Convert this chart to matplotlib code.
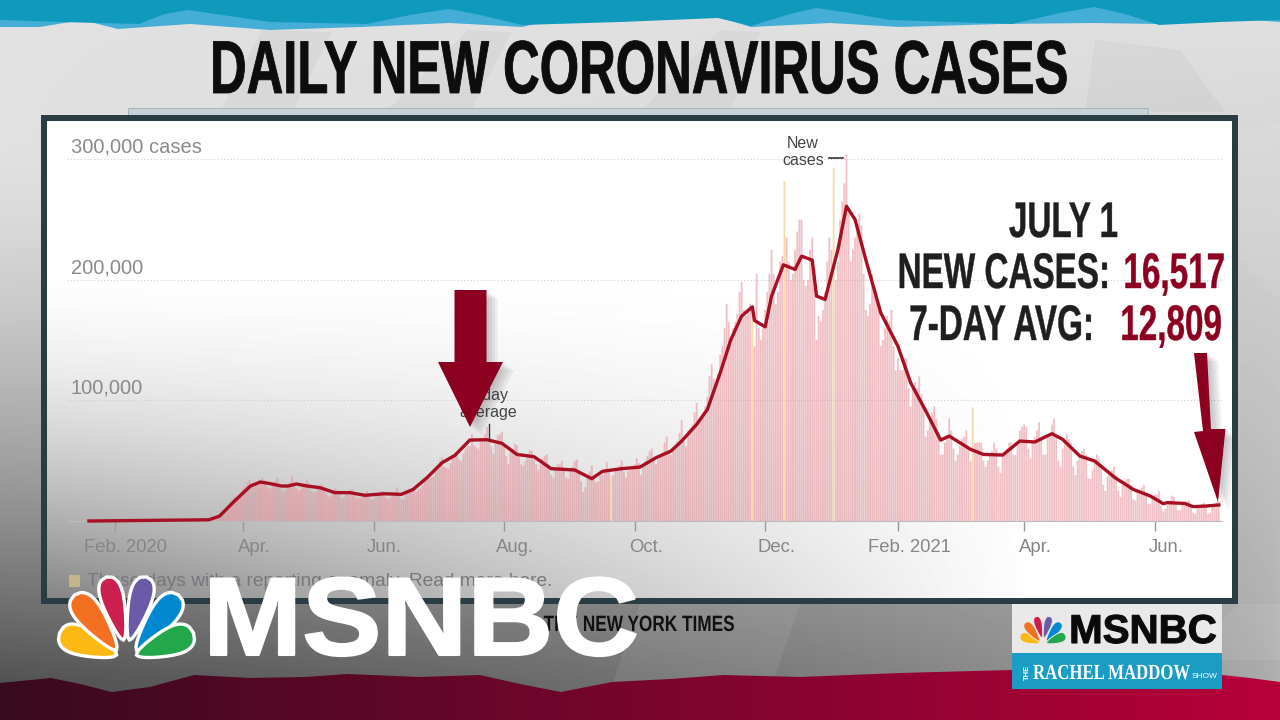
import numpy as np
import matplotlib
matplotlib.use('Agg')
import matplotlib.pyplot as plt
from matplotlib.patches import Polygon, Rectangle
from matplotlib.text import Text
from matplotlib.transforms import Affine2D, Bbox, ScaledTranslation, blended_transform_factory
import matplotlib.patheffects as pe

SANS = ['Liberation Sans', 'DejaVu Sans']
DARK_RED = '#8c0020'
INK = '#1f1f1f'

# days are counted from Feb. 1, 2020
tick_days = [0, 60, 121, 182, 243, 304, 366, 425, 486]
tick_labels = ['Feb. 2020', 'Apr.', 'Jun.', 'Aug.', 'Oct.', 'Dec.', 'Feb. 2021', 'Apr.', 'Jun.']
y_ticks = [100000, 200000, 300000]
y_labels = ['100,000', '200,000', '300,000 cases']

avg_days = [-12, 44, 49, 56, 63.5, 68, 72, 78, 81, 85, 90, 96, 103, 110, 117, 126, 134, 139.5,
            146, 153, 159, 166, 174, 181, 188, 196, 204, 215, 223, 228, 237, 245.5,
            253, 260, 265, 272, 277, 283, 288, 293, 298, 299, 304, 307, 312.5, 318, 321, 326,
            328, 332, 338, 342, 346, 351, 358, 366, 372, 379.5, 386, 390, 400, 406, 415,
            423, 430, 438, 443, 451, 458, 467.5, 476, 484, 490, 492, 500, 504, 510, 516]
avg_cases = [0, 1000, 4000, 16500, 29000, 32300, 31200, 29000, 29000, 30700, 29000, 27600,
             23500, 23500, 21300, 22600, 22100, 26200, 35900, 48300, 54400, 67100, 67400, 64400,
             55200, 53300, 43400, 42300, 35100, 41200, 43400, 44700,
             52500, 58000, 66300, 80100, 92500, 122900, 150500, 169900, 177600, 166300, 161000,
             186500, 212400, 208600, 219600, 216300, 186500, 183700, 225100, 261000, 250000,
             216900, 172700, 145000, 114600, 89800, 67100, 70400, 59400, 55200, 54700,
             66300, 65500, 72400, 67700, 53900, 49700, 35900, 26200, 20700, 14400, 15200,
             14600, 11900, 12400, 13300]

# daily counts in thousands, one row per week, first row starts Mar. 1, 2020
new_cases_start = 29
new_cases = [
    .03, .03, .03, .05, .06, .1, .1,
    .1, .2, .3, .4, .5, .6, .8,
    .8, 1, 1.2, 2, 3, 4.5, 6,
    8, 10, 11, 12, 16, 18, 20,
    19, 21, 24, 27, 29, 32, 34,
    29, 28, 30, 32, 34, 36, 34,
    29, 27, 27, 29, 33, 36, 31,
    26, 24, 26, 29, 32, 37, 31,
    27, 25, 26, 29, 31, 34, 31,
    25, 24, 24, 27, 30, 30, 27,
    22, 20, 21, 24, 27, 26, 24,
    19, 19, 22, 22, 26, 26, 23,
    19, 19, 19, 22, 23, 25, 21,
    18, 18, 20, 22, 24, 25, 22,
    19, 18, 20, 21, 23, 28, 23,
    18, 18, 22, 24, 26, 27, 27,
    24, 26, 27, 30, 34, 37, 35,
    36, 37, 41, 46, 50, 53, 45,
    44, 43, 48, 55, 54, 57, 51,
    50, 56, 60, 62, 62, 72, 63,
    61, 60, 66, 68, 72, 78, 66,
    62, 56, 64, 71, 72, 74, 62,
    54, 47, 57, 59, 64, 63, 55,
    47, 46, 50, 54, 59, 58, 51,
    47, 42, 47, 52, 54, 55, 46,
    38, 36, 43, 47, 47, 50, 42,
    36, 35, 43, 45, 50, 51, 40,
    33, 24, 28, 36, 41, 46, 38,
    32, 33, 38, 38, 42, 49, 41,
    36, 38, 42, 43, 46, 50, 41,
    36, 42, 42, 45, 47, 52, 48,
    38, 47, 50, 54, 58, 60, 53,
    47, 51, 55, 57, 65, 70, 58,
    55, 58, 62, 66, 73, 84, 66,
    62, 75, 77, 80, 90, 98, 84,
    85, 90, 95, 103, 120, 130, 118,
    110, 122, 138, 145, 160, 180, 165,
    145, 160, 165, 172, 190, 198, 175,
    170, 175, 180, 175, 145, 205, 160,
    150, 160, 175, 190, 205, 225, 205,
    180, 190, 215, 220, 282, 235, 215,
    200, 205, 225, 240, 250, 250, 200,
    195, 200, 225, 235, 210, 150, 170,
    165, 175, 190, 215, 235, 225, 293,
    200, 215, 250, 265, 280, 304, 255,
    215, 225, 235, 240, 255, 245, 205,
    175, 170, 180, 205, 195, 190, 175,
    145, 150, 160, 170, 165, 175, 145,
    125, 135, 125, 125, 135, 135, 110,
    95, 110, 115, 110, 120, 105, 95,
    70, 75, 85, 90, 95, 85, 70,
    55, 55, 65, 70, 85, 75, 60,
    50, 55, 62, 68, 70, 75, 60,
    50, 94, 65, 65, 65, 65, 50,
    45, 50, 55, 58, 65, 60, 45,
    40, 55, 55, 60, 65, 65, 55,
    55, 65, 75, 78, 80, 78, 60,
    52, 65, 70, 75, 82, 70, 55,
    55, 70, 72, 80, 85, 72, 50,
    45, 60, 65, 72, 68, 65, 45,
    38, 50, 55, 58, 60, 55, 35,
    35, 42, 48, 55, 52, 45, 30,
    25, 37, 40, 42, 45, 38, 25,
    20, 30, 33, 35, 35, 30, 18,
    17, 25, 25, 28, 30, 22, 14,
    14, 20, 22, 22, 25, 12, 8,
    10, 13, 17, 21, 20, 14, 9,
    9, 14, 15, 16, 17, 13, 7,
    6, 12, 13, 14, 15, 12, 6,
    7, 14, 14, 16, 16.5,
]
anomaly_days = [232, 298, 313, 336, 401]

# torn paper edges, screen pixels
blue_dark_x = [0, 60, 139, 165, 188, 215, 270, 367, 410, 449, 480, 522, 620, 718, 751, 790, 816, 850, 890, 1012, 1060, 1094, 1125, 1159, 1220, 1280]
blue_dark_y = [20, 22, 24, 14, 10, 14, 22, 24, 15, 9, 15, 25, 22, 18, 26, 14, 8, 13, 20, 24, 13, 7, 14, 25, 22, 20]
blue_light_x = [0, 40, 82, 118, 190, 270, 360, 450, 522, 560, 610, 718, 751, 830, 900, 1000, 1094, 1159, 1200, 1280]
blue_light_y = [27, 27, 20, 29, 24, 30, 27, 23, 27, 18, 22, 17, 27, 23, 27, 24, 23, 24, 16, 22]
bottom_edge_x = [0, 51, 80, 112, 150, 194, 250, 306, 347, 420, 480, 520, 561, 612, 670, 724, 800, 900, 1012, 1222, 1250, 1280]
bottom_edge_y = [683, 678, 684, 692, 687, 675, 678, 677, 674, 677, 675, 684, 692, 682, 679, 675, 677, 673, 670, 675, 678, 682]


class Squeeze(pe.AbstractPathEffect):
    # scales the glyphs sideways about the text anchor, the fonts here have no condensed cut
    def __init__(self, text, sx, stroke):
        super().__init__()
        self.text = text
        self.sx = sx
        self.stroke = stroke

    def draw_path(self, renderer, gc, tpath, affine, rgbFace=None):
        cx = self.text.anchor_px(renderer)
        aff = affine + Affine2D().translate(-cx, 0).scale(self.sx, 1).translate(cx, 0)
        gc0 = renderer.new_gc()
        gc0.copy_properties(gc)
        if self.stroke > 0:
            gc0.set_foreground(rgbFace)
            gc0.set_linewidth(self.stroke)
        renderer.draw_path(gc0, tpath, aff, rgbFace)
        gc0.restore()


class NarrowText(Text):
    def __init__(self, x, y, s, sx=1.0, stroke=0, **kw):
        super().__init__(x, y, s, **kw)
        self.sx = sx
        self.set_path_effects([Squeeze(self, sx, stroke)])

    def anchor_px(self, renderer=None):
        box = super().get_window_extent(renderer)
        ha = self.get_ha()
        if ha == 'left':
            return box.x0
        if ha == 'right':
            return box.x1
        return (box.x0 + box.x1) / 2

    def get_window_extent(self, renderer=None, dpi=None):
        box = super().get_window_extent(renderer, dpi)
        cx = self.anchor_px(renderer)
        return Bbox([[cx + (box.x0 - cx) * self.sx, box.y0], [cx + (box.x1 - cx) * self.sx, box.y1]])


def make_background():
    yy, xx = np.mgrid[0:720, 0:1280]
    u = xx / 1279.0
    t = yy / 719.0
    grey = 0.88 - 0.56 * np.clip((t - 0.2) / 0.75, 0, 1) ** 1.5 * (1 - u) ** 0.7 - 0.2 * t * u
    return np.clip(grey, 0, 1)


def make_panel():
    yy, xx = np.mgrid[0:480, 0:1185]
    u = xx / 1184.0
    t = yy / 479.0
    shade = np.clip((t - 0.3) / 0.7, 0, 1) ** 1.6 * np.clip(1 - u * 1.2, 0, 1) ** 1.0 * 0.48
    return 1 - shade


def feather(ax, ox, oy, s, foot, tip, w, col, outline, lw):
    foot = np.array(foot, float) * s + (ox, oy)
    tip = np.array(tip, float) * s + (ox, oy)
    d = tip - foot
    n = np.array([-d[1], d[0]]) / np.hypot(*d)
    q = np.linspace(0, 1, 40)
    half = w * s / 2 * q ** 0.6 * np.sqrt(1 - q ** 5) * 1.08
    a = foot + np.outer(q, d) + np.outer(half, n)
    b = foot + np.outer(q, d) - np.outer(half, n)
    ax.add_patch(Polygon(np.vstack([a, b[::-1]]), closed=True, fc=col, ec=outline, lw=lw, zorder=8))


def peacock(ax, ox, oy, s, outline='white', lw=2.4):
    # foot and tip of each feather, relative to the foot of the bird
    feathers = [((-10, 0), (-67, -22), 36, '#fdb913'), ((-10, -5), (-52, -60), 34, '#f37021'),
                ((-3, -15), (-20, -78), 29, '#cc1f4f'), ((3, -15), (20, -78), 29, '#6a5aa8'),
                ((10, -5), (52, -60), 34, '#0089d0'), ((10, 0), (67, -22), 36, '#22a84a')]
    for foot, tip, w, col in feathers:
        feather(ax, ox, oy, s, foot, tip, w, col, outline, lw)


def arrow(ax, pts):
    soft = [pe.SimplePatchShadow(offset=(i, -i * 0.7), shadow_rgbFace='#333333', alpha=0.07) for i in (8, 6, 4, 2)]
    ax.add_patch(Polygon(pts, closed=True, fc=DARK_RED, ec='none', zorder=6, path_effects=soft + [pe.Normal()]))


fig = plt.figure(figsize=(12.8, 7.2), dpi=100)

# backdrop, frame and paper strips
bg = fig.add_axes([0, 0, 1, 1], zorder=0)
bg.axis('off')
bg.imshow(make_background(), cmap='gray', vmin=0, vmax=1, extent=(0, 1280, 720, 0), aspect='auto', zorder=0)
for pts in ([(220, 112), (262, 30), (332, 32), (292, 112)], [(385, 112), (468, 30), (512, 32), (470, 112)],
            [(640, 112), (720, 30), (760, 32), (730, 112)], [(1085, 112), (1095, 40), (1180, 50), (1225, 112)]):
    bg.add_patch(Polygon(pts, closed=True, fc='black', alpha=0.03, ec='none', zorder=1))
for pts in ([(1240, 130), (1280, 125), (1280, 300), (1240, 260)], [(600, 720), (640, 604), (800, 604), (760, 720)],
            [(1180, 660), (1240, 604), (1280, 604), (1280, 660)]):
    bg.add_patch(Polygon(pts, closed=True, fc='white', alpha=0.07, ec='none', zorder=1))
bg.add_patch(Rectangle((128, 108), 1020, 8, fc='#c6d2d8', ec='#9fb0b8', lw=0.6, zorder=1))
bg.add_patch(Rectangle((41, 115), 1197, 489, fc='#2a3c44', ec='none', zorder=2))
bg.imshow(make_panel(), cmap='gray', vmin=0, vmax=1, extent=(47, 1232, 598, 121), aspect='auto', zorder=3)

bg.fill_between(blue_light_x, blue_light_y, color='#45aed6', lw=0, zorder=1)
bg.fill_between(blue_dark_x, blue_dark_y, color='#0f9abd', lw=0, zorder=1)
ramp = np.linspace(0, 1, 256)
red = np.zeros((1, 256, 3))
red[0, :, 0] = 0.22 + 0.50 * ramp
red[0, :, 1] = 0.04 - 0.04 * ramp
red[0, :, 2] = 0.12 + 0.11 * ramp
strip = bg.imshow(red, extent=(0, 1280, 720, 660), aspect='auto', zorder=1)
clip = Polygon(list(zip(bottom_edge_x, bottom_edge_y)) + [(1280, 720), (0, 720)], closed=True,
               transform=bg.transData, fc='none', ec='none')
bg.add_patch(clip)
strip.set_clip_path(clip)
bg.set_xlim(0, 1280)
bg.set_ylim(720, 0)

# the chart itself, 2.14 px per day and 1.206 px per 1000 cases
left, right, base, top = 67, 1222, 521, 140
ax = fig.add_axes([left / 1280, 1 - base / 720, (right - left) / 1280, (base - top) / 720], zorder=1)
ax.patch.set_alpha(0)
ax.set_xlim((left - 114.6) / 2.14, (right - 114.6) / 2.14)
ax.set_ylim(0, (base - top) / 1.206 * 1000)
for s in ['top', 'right', 'left']:
    ax.spines[s].set_visible(False)
ax.spines['bottom'].set_color('#bbbbbb')
ax.spines['bottom'].set_linewidth(0.8)

days = np.arange(len(new_cases)) + new_cases_start
cases = np.array(new_cases) * 1000
colors = ['#f5d9a8' if d in anomaly_days else '#e58d97' for d in days]
bars = ax.bar(days, cases, width=0.85, color=colors, linewidth=0, zorder=2)
for b, d in zip(bars, days):
    b.set_alpha(0.95 if d in anomaly_days else 0.55)
    b.set_snap(False)
ax.plot(avg_days, avg_cases, color='#a70f22', lw=2.4, solid_joinstyle='round', zorder=3, clip_on=False)

for y in y_ticks:
    ax.axhline(y, color='#cfcfcf', lw=0.8, ls=(0, (1, 2)), zorder=1)
ax.set_yticks([])
trans = blended_transform_factory(ax.transAxes, ax.transData)
for y, lab in zip(y_ticks, y_labels):
    ax.text(4 / (right - left), y + 2000, lab, transform=trans, color='#8a8a8a', fontsize=14.5,
            family=SANS, va='bottom', ha='left')

ax.set_xticks(tick_days)
ax.set_xticklabels(tick_labels, family=SANS, fontsize=13.3, color='#86868a')
ax.tick_params(axis='x', length=7, width=1, color='#999999', pad=6)
for lab in ax.get_xticklabels():
    lab.set_transform(lab.get_transform() + ScaledTranslation(8 / 72, 0, fig.dpi_scale_trans))

# everything laid on top of the chart, screen pixels
top_ax = fig.add_axes([0, 0, 1, 1], zorder=2)
top_ax.patch.set_alpha(0)
top_ax.set_xlim(0, 1280)
top_ax.set_ylim(720, 0)
top_ax.axis('off')


def narrow(x, y, s, size, sx, stroke=0, color=INK, ha='right', zorder=7, family=None, weight='bold'):
    t = NarrowText(x, y, s, sx=sx, stroke=stroke, family=family or SANS, weight=weight, fontsize=size,
                   color=color, ha=ha, va='baseline', zorder=zorder)
    top_ax.add_artist(t)
    return t


narrow(639, 93, 'DAILY NEW CORONAVIRUS CASES', 54, 0.676, stroke=0.6, color='#0d0d0d', ha='center')

top_ax.text(803, 152, 'New\ncases', family=SANS, fontsize=11.5, color='#444444', ha='center',
            va='center', linespacing=1.15)
top_ax.plot([829, 843], [158, 158], color='#333333', lw=1.2)
top_ax.text(488, 404, '7-day\naverage', family=SANS, fontsize=11.5, color='#444444', ha='center',
            va='center', linespacing=1.15)
top_ax.plot([489, 489], [424, 440], color='#333333', lw=1.0)

arrow(top_ax, [(454.5, 290), (486.5, 290), (486.5, 362), (503, 362), (470, 427), (438, 362), (454.5, 362)])
arrow(top_ax, [(1194, 353), (1207, 353), (1211, 429), (1225.5, 429), (1218, 502), (1194, 432), (1203, 431)])

narrow(1063.5, 237, 'JULY 1', 36, 0.665, stroke=0.3, ha='center')
narrow(1110, 288, 'NEW CASES:', 36, 0.665, stroke=0.3)
narrow(1225, 288, '16,517', 36, 0.665, stroke=0.3, color=DARK_RED)
narrow(1094, 340, '7-DAY AVG:', 36, 0.665, stroke=0.3)
narrow(1222, 340, '12,809', 36, 0.665, stroke=0.3, color=DARK_RED)

top_ax.add_patch(Rectangle((69, 575), 11, 12, fc='#c4b48c', ec='none', zorder=3))
top_ax.text(87, 582, 'These days with a reporting anomaly. Read more here.', family=SANS, fontsize=13.8,
            color='#77777c', ha='left', va='center', zorder=3)
narrow(735, 631, 'THE NEW YORK TIMES', 16, 0.775, color='#111111', zorder=3)

peacock(top_ax, 126.5, 655, 1.0)
narrow(421, 655, 'MSNBC', 80, 1.07, stroke=1.5, color='white', ha='center', zorder=9)

# show badge, lower right
top_ax.add_patch(Rectangle((1012, 604), 210, 49, fc='#e9e9e9', ec='none', zorder=4))
top_ax.add_patch(Rectangle((1012, 653), 210, 36, fc='#1b9cc5', ec='none', zorder=4))
peacock(top_ax, 1043, 643, 0.34, outline='#e9e9e9', lw=0.7)
narrow(1143, 643, 'MSNBC', 29, 1.0, stroke=0.8, color='#0a0a0a', ha='center', zorder=9)
top_ax.text(1027, 672, 'THE', family=SANS, weight='bold', fontsize=5.5, color='white', rotation=90, ha='center',
            va='center', zorder=9)
narrow(1033, 679, 'RACHEL MADDOW', 15.5, 0.78, color='white', ha='left', zorder=9, family=['Liberation Serif', 'DejaVu Serif'])
top_ax.text(1192, 676, 'SHOW', family=SANS, fontsize=6, color='white', ha='left', va='center', zorder=9)

fig.savefig('out.png', dpi=100)
